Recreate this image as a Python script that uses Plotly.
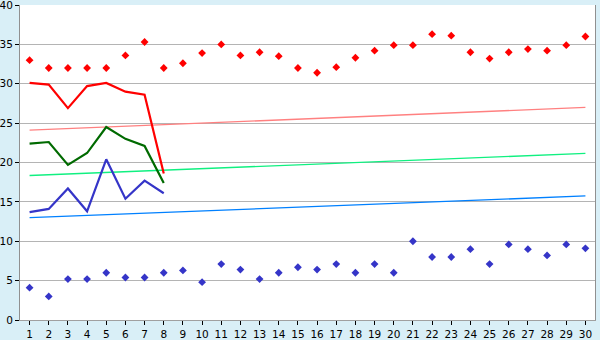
import plotly.graph_objects as go

days = list(range(1, 31))
max_temp = [33, 32, 32, 32, 32, 33.6, 35.3, 32, 32.6, 33.9, 35.0, 33.6, 34.0, 33.5, 32,
            31.4, 32.1, 33.3, 34.2, 34.9, 34.9, 36.3, 36.1, 34.0, 33.2, 34.0, 34.4, 34.2, 34.9, 36.0]
min_temp = [4.1, 3.0, 5.2, 5.2, 6.0, 5.4, 5.4, 6.0, 6.3, 4.8, 7.1, 6.4, 5.2, 6.0, 6.7,
            6.4, 7.1, 6.0, 7.1, 6.0, 10.0, 8.0, 8.0, 9.0, 7.1, 9.6, 9.0, 8.2, 9.6, 9.1]
line_days = [1, 2, 3, 4, 5, 6, 7, 8]
red_line = [30.1, 29.9, 26.9, 29.7, 30.1, 29.0, 28.6, 18.6]
green_line = [22.4, 22.6, 19.7, 21.2, 24.5, 23.0, 22.1, 17.4]
blue_line = [13.7, 14.1, 16.7, 13.8, 20.4, 15.4, 17.7, 16.1]
trend_days = [1, 30]
red_trend = [24.1, 27.0]
green_trend = [18.35, 21.15]
blue_trend = [13.0, 15.75]

fig = go.Figure()
fig.add_trace(go.Scatter(x=trend_days, y=red_trend, mode="lines", line=dict(color="#ff8080", width=1.3)))
fig.add_trace(go.Scatter(x=trend_days, y=green_trend, mode="lines", line=dict(color="#10f080", width=1.3)))
fig.add_trace(go.Scatter(x=trend_days, y=blue_trend, mode="lines", line=dict(color="#0080ff", width=1.3)))
fig.add_trace(go.Scatter(x=line_days, y=red_line, mode="lines", line=dict(color="#ff0000", width=2.2)))
fig.add_trace(go.Scatter(x=line_days, y=green_line, mode="lines", line=dict(color="#006a00", width=2.2)))
fig.add_trace(go.Scatter(x=line_days, y=blue_line, mode="lines", line=dict(color="#3535c8", width=2.2)))
fig.add_trace(go.Scatter(x=days, y=max_temp, mode="markers",
                         marker=dict(symbol="diamond", size=6, color="#ff0000")))
fig.add_trace(go.Scatter(x=days, y=min_temp, mode="markers",
                         marker=dict(symbol="diamond", size=6, color="#3535c8")))

fig.update_layout(
    width=600, height=340,
    margin=dict(l=20, r=5, t=5, b=20),
    paper_bgcolor="#d9eff7",
    plot_bgcolor="#ffffff",
    showlegend=False,
    font=dict(family="DejaVu Sans", size=10.5, color="#000000"),
)
fig.update_xaxes(range=[0.5, 30.5], tickmode="array", tickvals=days, ticktext=[str(d) for d in days],
                 showgrid=False, zeroline=False, showline=True, linecolor="#a0a0a0", linewidth=1,
                 ticks="outside", ticklen=4, tickcolor="#000000", mirror=False, tickfont=dict(size=10.5),
                 ticklabelstandoff=0, ticklabeloverflow="allow", automargin=False)
fig.update_yaxes(range=[0, 40], tickmode="array", tickvals=[0, 5, 10, 15, 20, 25, 30, 35, 40],
                 showgrid=True, gridcolor="#b4b4b4", gridwidth=1, zeroline=False,
                 showline=True, linecolor="#909090", linewidth=1, mirror=True,
                 ticks="outside", ticklen=4, tickcolor="#000000", tickfont=dict(size=10.5),
                 ticklabeloverflow="allow", automargin=False)
fig.write_html("out.html")
